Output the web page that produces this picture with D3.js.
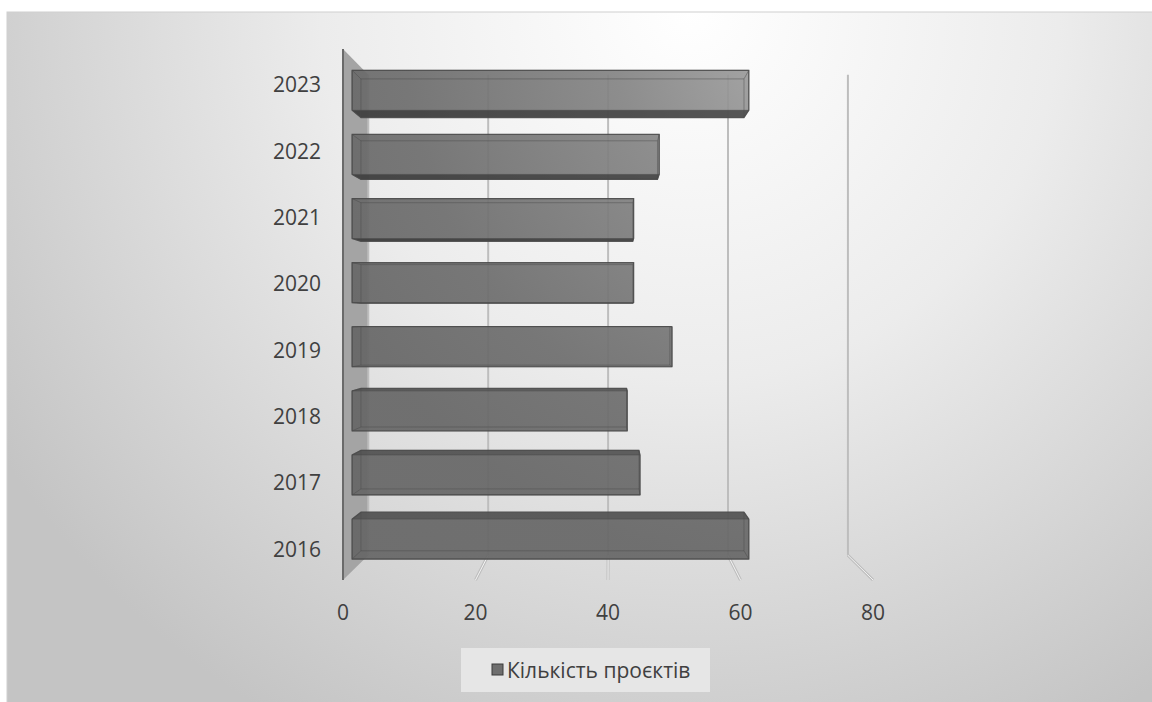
<!DOCTYPE html>
<html>
<head>
<meta charset="utf-8">
<script src="https://cdn.jsdelivr.net/npm/d3@7"></script>
<style>
html,body{margin:0;padding:0;background:#fff;}
svg{display:block;font-family:"Open Sans","Liberation Sans",sans-serif;}
</style>
</head>
<body>
<svg id="chart" width="1152" height="702"></svg>
<script>
// ---- data ----
const categories = ["2016","2017","2018","2019","2020","2021","2022","2023"];
const values = [62, 45, 43, 50, 44, 44, 48, 62];
const valueTicks = [0, 20, 40, 60, 80];
const seriesName = "Кількість проєктів";

// ---- layout ----
const W = 1152, H = 702;
const svg = d3.select("#chart");
const defs = svg.append("defs");

const bg = defs.append("radialGradient").attr("id","bg")
  .attr("gradientUnits","userSpaceOnUse").attr("cx",690).attr("cy",10).attr("r",820);
bg.append("stop").attr("offset",0).attr("stop-color","#ffffff");
bg.append("stop").attr("offset",0.45).attr("stop-color","#ececec");
bg.append("stop").attr("offset",1).attr("stop-color","#c4c4c4");

const barG = defs.append("radialGradient").attr("id","barg")
  .attr("gradientUnits","userSpaceOnUse").attr("cx",800).attr("cy",50).attr("r",520);
barG.append("stop").attr("offset",0).attr("stop-color","#a3a3a3");
barG.append("stop").attr("offset",0.35).attr("stop-color","#848484");
barG.append("stop").attr("offset",0.75).attr("stop-color","#6d6d6d");
barG.append("stop").attr("offset",1).attr("stop-color","#666666");

svg.append("rect").attr("x",7).attr("y",12).attr("width",1150).attr("height",700)
  .attr("fill","url(#bg)").attr("stroke","#d0d0d0").attr("stroke-width",1);

// front-plane scales
const x = d3.scaleLinear().domain([0, 80]).range([343, 873]);
const y = d3.scaleBand().domain(categories.slice().reverse()).range([49, 580])
  .paddingInner(0.376).paddingOuter(0.188);
const yTop = 49, yBot = 580;

// perspective projection
const VX = 609, VY = 320, K = 0.095;
function proj(X, Y, d){ const s = 1 - K*d; return [VX + (X-VX)*s, VY + (Y-VY)*s]; }
const line = d3.line();

// side wall
const wallPts = [proj(x(0),yTop,0), proj(x(0),yTop,1), proj(x(0),yBot,1), proj(x(0),yBot,0)];
svg.append("path").attr("d", line(wallPts)+"Z").attr("fill","#a4a4a4").attr("stroke","none");
svg.append("path").attr("d", line([wallPts[0], wallPts[3]])).attr("stroke","#6a6a6a").attr("stroke-width",2).attr("fill","none");

// back-wall gridlines + floor lines
valueTicks.forEach(v => {
  const a = proj(x(v), yTop, 1), b = proj(x(v), yBot, 1);
  svg.append("path").attr("d", line([a,b])).attr("stroke","#bdbdbd").attr("stroke-width",2).attr("fill","none");
  if (v !== 0) {
    const c = proj(x(v), yBot, 0);
    svg.append("path").attr("d", line([b,c])).attr("stroke","#bdbdbd").attr("stroke-width",3).attr("fill","none");
    svg.append("path").attr("d", line([b,c])).attr("stroke","#f4f4f4").attr("stroke-width",1).attr("fill","none");
  }
});

// bars
const dF = 0.36, dB = 0.71;
categories.forEach((cat, i) => {
  const v = values[i];
  const X0 = x(0), X1 = x(v), Y0 = y(cat), Y1 = y(cat) + y.bandwidth();
  const f = [proj(X0,Y0,dF), proj(X1,Y0,dF), proj(X1,Y1,dF), proj(X0,Y1,dF)];
  const b = [proj(X0,Y0,dB), proj(X1,Y0,dB), proj(X1,Y1,dB), proj(X0,Y1,dB)];
  const g = svg.append("g");
  const hull = d3.polygonHull(f.concat(b));
  g.append("path").attr("d", line(hull)+"Z").attr("fill","url(#barg)").attr("fill-opacity",0.92);
  if (Y1 < VY) {
    g.append("path").attr("d", line([f[3], f[2], b[2], b[3]])+"Z").attr("fill","#2a2a2a").attr("fill-opacity",0.62);
  }
  if (Y0 > VY) {
    g.append("path").attr("d", line([f[0], f[1], b[1], b[0]])+"Z").attr("fill","#333333").attr("fill-opacity",0.35);
  }
  g.append("path").attr("d", line(b)+"Z").attr("fill","none").attr("stroke","#4a4a4a").attr("stroke-opacity",0.45).attr("stroke-width",1);
  for (let k=0;k<4;k++) {
    g.append("path").attr("d", line([f[k], b[k]])).attr("fill","none").attr("stroke","#4a4a4a").attr("stroke-opacity",0.45).attr("stroke-width",1);
  }
  g.append("path").attr("d", line(f)+"Z").attr("fill","none").attr("stroke","#4d4d4d").attr("stroke-opacity",0.6).attr("stroke-width",1);
  g.append("path").attr("d", line(hull)+"Z").attr("fill","none").attr("stroke","#4a4a4a").attr("stroke-opacity",0.8).attr("stroke-width",1.2);
});

// category labels
svg.append("g").selectAll("text").data(categories).join("text")
  .attr("x", 321).attr("y", d => y(d) + y.bandwidth()/2 + 2)
  .attr("text-anchor","end").attr("dominant-baseline","central")
  .attr("font-size",21).attr("fill","#404040").text(d => d);

// value labels
svg.append("g").selectAll("text").data(valueTicks).join("text")
  .attr("x", d => x(d)).attr("y", 612)
  .attr("text-anchor","middle").attr("dominant-baseline","central")
  .attr("font-size",21).attr("fill","#404040").text(d => d);

// legend
const lg = svg.append("g");
lg.append("rect").attr("x",461).attr("y",648).attr("width",249).attr("height",44).attr("fill","#e6e6e6");
lg.append("rect").attr("x",492).attr("y",664).attr("width",11).attr("height",11)
  .attr("fill","#6e6e6e").attr("stroke","#3a3a3a").attr("stroke-width",1);
lg.append("text").attr("x",507).attr("y",670).attr("dominant-baseline","central")
  .attr("font-size",21).attr("fill","#404040").text(seriesName);
</script>
</body>
</html>
